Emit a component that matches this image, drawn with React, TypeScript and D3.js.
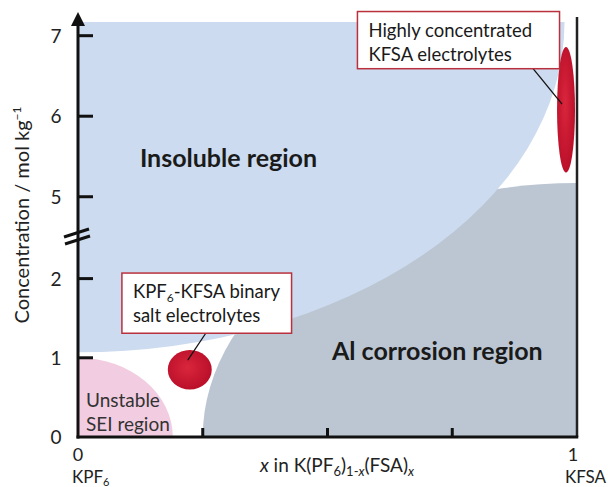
import React from "react";
import * as d3 from "d3";

// ---- data (schematic phase diagram, x = FSA fraction, y = concentration mol/kg)
const xTicks = [0.25, 0.5, 0.75];
const yTicks = [1, 2, 5, 6, 7];
const yTickLabels = [0, 1, 2, 5, 6, 7];
const yBreak = [2.5, 4.5];
const yTop = 7.17;

// regions: centre (cx, cy) in data units, half-width rx (x units), edge value ey (y units)
const regionNames = ["Al corrosion region", "Insoluble region", "Unstable SEI region"];
const regionCx = [1, 0, 0];
const regionCy = [0, 7.17, 0];
const regionRx = [0.75, 0.975, 0.19];
const regionEy = [5.17, 1.07, 1.0];
const regionColors = ["#bcc6d3", "#ccdbef", "#f2cde1"];

// electrolyte domains
const domainCx = [0.224, 0.978];
const domainCy = [0.85, 6.08];
const domainRx = [0.044, 0.018];
const domainEy = [1.1, 6.86];

// callouts: box [x0, x1, yTop, yBottom], leader from (lx0, ly0) to (lx1, ly1)
const calloutLines = [
  ["KPF6-KFSA binary", "salt electrolytes"],
  ["Highly concentrated", "KFSA electrolytes"],
];
const calloutBox = [
  [0.088, 0.428, 2.07, 1.31],
  [0.56, 0.965, 7.3, 6.59],
];
const calloutLeader = [
  [0.256, 1.31, 0.22, 0.97],
  [0.912, 6.59, 0.97, 6.15],
];

const W = 608;
const H = 487;
const FONT = "Lato, 'Open Sans', sans-serif";

export default function App() {
  const x = d3.scaleLinear().domain([0, 1]).range([78, 577]);
  const y = d3
    .scaleLinear()
    .domain([0, yBreak[0], yBreak[1], yTop])
    .range([437, 239, 237, 22]);

  const ellipse = (i: number, cxs: number[], cys: number[], rxs: number[], eys: number[]) => {
    const cx = x(cxs[i]);
    const cy = y(cys[i]);
    const rx = Math.abs(x(cxs[i] + rxs[i]) - cx);
    const ry = Math.abs(y(eys[i]) - cy);
    return { cx, cy, rx, ry };
  };

  const x0 = x(0);
  const x1 = x(1);
  const y0 = y(0);
  const yT = y(yTop);
  const breakY = (y(yBreak[0]) + y(yBreak[1])) / 2 - 4;

  const order = [0, 1, 2];

  return (
    <svg width={W} height={H} style={{ display: "block", position: "absolute", left: 0, top: 0, background: "#fff" }} fontFamily={FONT}>
      <defs>
        <clipPath id="plot">
          <rect x={x0} y={yT} width={x1 - x0} height={y0 - yT} />
        </clipPath>
        <radialGradient id="red" cx="45%" cy="45%" r="60%">
          <stop offset="0%" stopColor="#d9263c" />
          <stop offset="100%" stopColor="#b80d28" />
        </radialGradient>
      </defs>

      <g clipPath="url(#plot)">
        {order.map((i) => {
          const e = ellipse(i, regionCx, regionCy, regionRx, regionEy);
          return <ellipse key={i} cx={e.cx} cy={e.cy} rx={e.rx} ry={e.ry} fill={regionColors[i]} />;
        })}
      </g>

      {domainCx.map((_, i) => {
        const e = ellipse(i, domainCx, domainCy, domainRx, domainEy);
        return <ellipse key={i} cx={e.cx} cy={e.cy} rx={e.rx} ry={e.ry} fill="url(#red)" />;
      })}

      {/* region labels */}
      <text x={x(0.124)} y={y(5.37)} fontSize={25} fontWeight={700} fill="#1a1a1a">
        {regionNames[1]}
      </text>
      <text x={x(0.509)} y={y(0.97)} fontSize={25} fontWeight={700} fill="#1a1a1a">
        {regionNames[0]}
      </text>
      <text x={x(0.016)} y={y(0.38)} fontSize={19} fill="#333">
        Unstable
      </text>
      <text x={x(0.016)} y={y(0.07)} fontSize={19} fill="#333">
        SEI region
      </text>

      {/* callouts */}
      {calloutBox.map((b, i) => {
        const [bx0, bx1, by0, by1] = b;
        const [lx0, ly0, lx1, ly1] = calloutLeader[i];
        const left = x(bx0);
        const top = y(by0);
        const w = x(bx1) - left;
        const h = y(by1) - top;
        return (
          <g key={i}>
            <line x1={x(lx0)} y1={y(ly0)} x2={x(lx1)} y2={y(ly1)} stroke="#111" strokeWidth={1.3} />
            <rect x={left} y={top} width={w} height={h} fill="#fff" stroke="#b8313d" strokeWidth={1.5} />
            <text x={left + 11} y={top + 25} fontSize={18.5} fill="#1a1a1a">
              {i === 0 ? (
                <>
                  KPF<tspan fontSize={12} dy={4}>6</tspan>
                  <tspan dy={-4}>-KFSA binary</tspan>
                </>
              ) : (
                calloutLines[i][0]
              )}
            </text>
            <text x={left + 11} y={top + 49} fontSize={18.5} fill="#1a1a1a">
              {calloutLines[i][1]}
            </text>
          </g>
        );
      })}

      {/* axes */}
      <line x1={x1} y1={y0} x2={x1} y2={yT - 5} stroke="#222" strokeWidth={2.5} />
      <line x1={x0 - 1.5} y1={y0} x2={x1 + 1.25} y2={y0} stroke="#111" strokeWidth={3} />
      <line x1={x0} y1={y0 + 1.5} x2={x0} y2={yT + 2} stroke="#111" strokeWidth={3} />
      <path d={`M${x0},${yT - 10} L${x0 - 7},${yT + 4} L${x0 + 7},${yT + 4} Z`} fill="#111" />
      {yTicks.map((t) => (
        <line key={t} x1={x0} y1={y(t)} x2={x0 + 15} y2={y(t)} stroke="#111" strokeWidth={3} />
      ))}
      {xTicks.map((t) => (
        <line key={t} x1={x(t)} y1={y0} x2={x(t)} y2={y0 - 9} stroke="#111" strokeWidth={3} />
      ))}
      {/* axis break */}
      <line x1={x0 - 14} y1={breakY + 3} x2={x0 + 11} y2={breakY - 5} stroke="#111" strokeWidth={3} />
      <line x1={x0 - 13} y1={breakY + 10} x2={x0 + 12} y2={breakY + 2} stroke="#111" strokeWidth={3} />

      {yTickLabels.map((t) => (
        <text key={t} x={56} y={y(t) + 7} fontSize={19} textAnchor="middle" fill="#222">
          {t}
        </text>
      ))}
      <text x={x0} y={461} fontSize={18} textAnchor="middle" fill="#222">0</text>
      <text x={x1 - 4} y={461} fontSize={18} textAnchor="middle" fill="#222">1</text>
      <text x={x0 - 6} y={483} fontSize={17} fill="#222">
        KPF<tspan fontSize={11} dy={3}>6</tspan>
      </text>
      <text x={x1 - 12} y={483} fontSize={17} fill="#222">KFSA</text>

      <text x={337} y={472} fontSize={19} textAnchor="middle" fill="#222">
        <tspan fontStyle="italic">x</tspan> in K(PF<tspan fontSize={13} dy={4}>6</tspan>
        <tspan dy={-4}>)</tspan>
        <tspan fontSize={13} dy={4}>1-</tspan>
        <tspan fontSize={13} fontStyle="italic">x</tspan>
        <tspan dy={-4}>(FSA)</tspan>
        <tspan fontSize={13} dy={4} fontStyle="italic">x</tspan>
      </text>

      <text transform={`translate(29,215) rotate(-90)`} fontSize={20} textAnchor="middle" fill="#222">
        Concentration / mol kg<tspan fontSize={12} dy={-8}>−1</tspan>
      </text>
    </svg>
  );
}
